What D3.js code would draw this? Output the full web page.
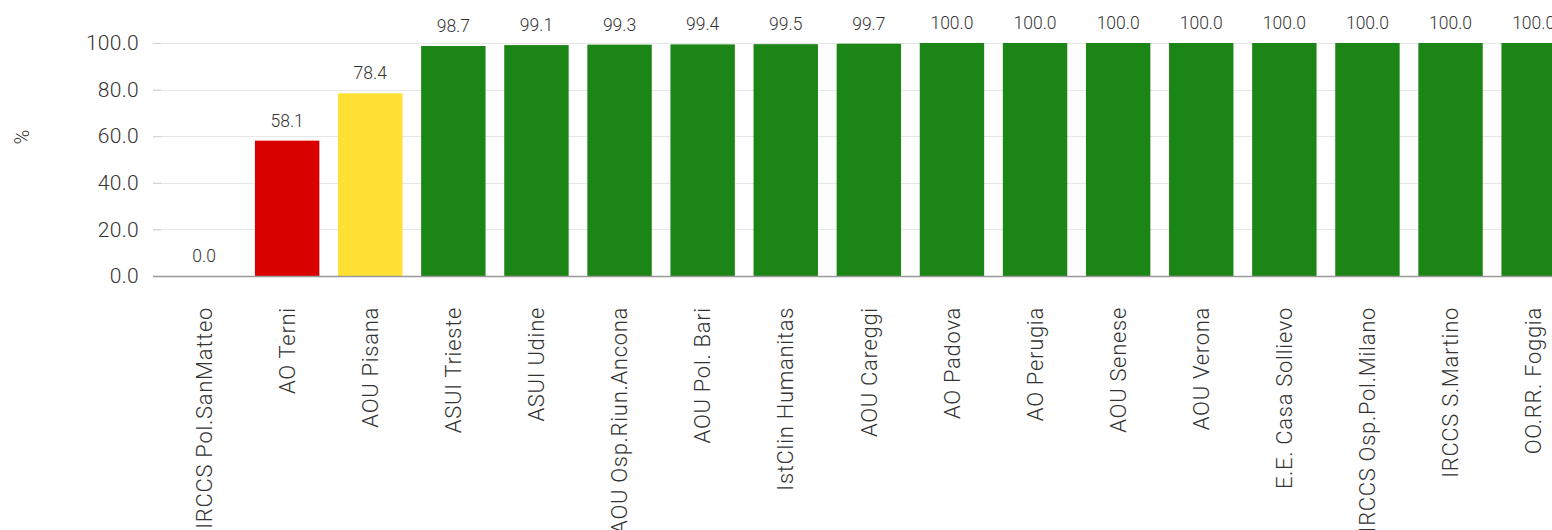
<!DOCTYPE html>
<html>
<head>
<meta charset="utf-8">
<script src="https://cdn.jsdelivr.net/npm/d3@7"></script>
<style>
html, body { margin: 0; padding: 0; background: #fff; overflow: hidden; }
svg { display: block; font-family: Roboto, "Noto Sans", sans-serif; font-weight: 300; }
</style>
</head>
<body>
<svg id="chart" width="1552" height="530"></svg>
<script>
const categories = ["IRCCS Pol.SanMatteo", "AO Terni", "AOU Pisana", "ASUI Trieste", "ASUI Udine",
  "AOU Osp.Riun.Ancona", "AOU Pol. Bari", "IstClin Humanitas", "AOU Careggi", "AO Padova",
  "AO Perugia", "AOU Senese", "AOU Verona", "E.E. Casa Sollievo", "IRCCS Osp.Pol.Milano",
  "IRCCS S.Martino", "OO.RR. Foggia"];
const values = [0.0, 58.1, 78.4, 98.7, 99.1, 99.3, 99.4, 99.5, 99.7, 100.0, 100.0, 100.0, 100.0, 100.0, 100.0, 100.0, 100.0];
const yTicks = [0, 20, 40, 60, 80, 100];
const yLabel = "%";

function colorFor(v) {
  if (v < 60) return "#d90000";
  if (v < 90) return "#ffe033";
  return "#1b8515";
}

const svg = d3.select("#chart");
const y0 = 276, y1 = 43;
const xLeft = 162.5, step = 83.1;
const x = d3.scaleBand().domain(categories)
  .range([xLeft, xLeft + step * categories.length])
  .paddingInner(0.225).paddingOuter(0.1125);
const y = d3.scaleLinear().domain([0, 100]).range([y0, y1]);

// gridlines
svg.append("g").selectAll("line").data(yTicks.filter(d => d > 0)).join("line")
  .attr("x1", 153).attr("x2", 1552)
  .attr("y1", d => Math.round(y(d)) + 0.5).attr("y2", d => Math.round(y(d)) + 0.5)
  .attr("stroke", "#e6e6e6").attr("stroke-width", 1);

// y axis
const yAxis = svg.append("g").attr("transform", "translate(161,0)")
  .call(d3.axisLeft(y).tickValues(yTicks).tickFormat(d3.format(".1f")).tickSize(8).tickPadding(14));
yAxis.select(".domain").remove();
yAxis.selectAll(".tick line").attr("stroke", "#d0d0d0");
yAxis.selectAll(".tick text").attr("fill", "#333").style("font-size", "21px")
  .style("letter-spacing", "0.3px")
  .style("font-family", "Roboto, sans-serif").style("font-weight", "300");

// bars
svg.append("g").selectAll("rect").data(values).join("rect")
  .attr("x", (d, i) => x(categories[i]))
  .attr("width", x.bandwidth())
  .attr("y", d => y(d))
  .attr("height", d => y(0) - y(d))
  .attr("fill", d => colorFor(d));

// baseline
svg.append("line").attr("x1", 153).attr("x2", 1552)
  .attr("y1", y0 + 0.5).attr("y2", y0 + 0.5)
  .attr("stroke", "#999").attr("stroke-width", 1.5);

// value labels
svg.append("g").selectAll("text").data(values).join("text")
  .attr("x", (d, i) => x(categories[i]) + x.bandwidth() / 2)
  .attr("y", d => y(d) - 14)
  .attr("text-anchor", "middle")
  .attr("fill", "#333")
  .style("font-size", "17.5px")
  .text(d => d.toFixed(1));

// category labels
const xAxis = svg.append("g").attr("transform", `translate(0,${y0})`)
  .call(d3.axisBottom(x).tickSize(0).tickPadding(0));
xAxis.select(".domain").remove();
xAxis.selectAll(".tick text")
  .attr("transform", "rotate(-90)")
  .attr("x", -31).attr("y", 0).attr("dy", "0.35em")
  .attr("text-anchor", "end")
  .attr("fill", "#333")
  .style("font-size", "22px")
  .style("letter-spacing", "0.7px")
  .style("font-family", "Roboto, sans-serif").style("font-weight", "300");

// y label
svg.append("text").attr("transform", "translate(22,137) rotate(-90)")
  .attr("text-anchor", "middle").attr("dy", "0.35em")
  .attr("fill", "#333").style("font-size", "20px").text(yLabel);
</script>
</body>
</html>
